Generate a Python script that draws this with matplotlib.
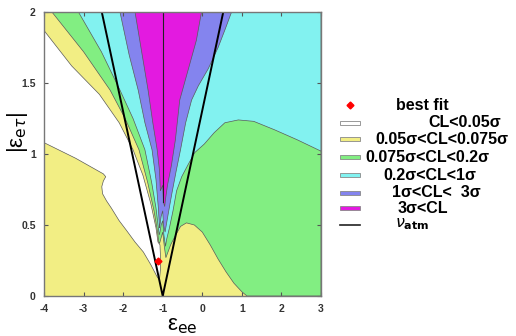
import matplotlib.pyplot as plt
from matplotlib.patches import Rectangle
from matplotlib.lines import Line2D

plt.rcParams['font.family'] = ['Liberation Sans', 'DejaVu Sans']
plt.rcParams['axes.unicode_minus'] = False

# couleurs des niveaux de CL
c_white = '#ffffff'
c_yellow = '#f2ee84'
c_green = '#82ee82'
c_cyan = '#82f2f0'
c_blue = '#8484ee'
c_magenta = '#e31ae0'

# === frontieres (eps_ee, |eps_etau|) ===
# cote gauche, du haut vers le bas
w_x = [-4.0, -3.3, -2.6, -2.1, -1.75, -1.5, -1.3, -1.17, -1.12]          # blanc / jaune
w_y = [1.87, 1.62, 1.42, 1.22, 1.03, 0.85, 0.65, 0.48, 0.38]
yg_x = [-3.80, -3.0, -2.33, -1.95, -1.6, -1.38, -1.22, -1.13, -1.10]      # jaune / vert
yg_y = [2.0, 1.72, 1.45, 1.25, 1.03, 0.80, 0.60, 0.45, 0.38]
gc_x = [-3.13, -2.55, -2.08, -1.75, -1.45, -1.28, -1.17, -1.11, -1.09]    # vert / cyan
gc_y = [2.0, 1.72, 1.45, 1.25, 1.03, 0.80, 0.62, 0.48, 0.43]
cb_x = [-2.08, -1.85, -1.62, -1.45, -1.27, -1.17, -1.11, -1.08]           # cyan / bleu
cb_y = [2.0, 1.70, 1.45, 1.22, 1.03, 0.82, 0.62, 0.48]
bm_x = [-1.70, -1.52, -1.37, -1.25, -1.14, -1.08, -1.06]                  # bleu / magenta
bm_y = [2.0, 1.70, 1.45, 1.22, 1.03, 0.88, 0.74]

# jaune du bas a gauche (de gauche a droite)
low_x = [-4.0, -3.2, -2.50, -2.44, -2.50, -2.54, -2.52, -2.42, -2.30, -2.10, -1.91, -1.70, -1.49, -1.30, -1.15, -1.10]
low_y = [1.08, 0.97, 0.86, 0.84, 0.81, 0.77, 0.72, 0.67, 0.62, 0.53, 0.46, 0.38, 0.31, 0.22, 0.14, 0.12]
# bord droit du blanc
wr_x = [-1.07, -1.06, -1.06, -1.08]
wr_y = [0.36, 0.30, 0.18, 0.12]

# cote droit, du haut vers le bas
mb_x = [-0.02, -0.15, -0.30, -0.45, -0.57, -0.68, -0.78, -0.88, -0.93, -0.95]   # magenta / bleu
mb_y = [2.0, 1.80, 1.65, 1.50, 1.38, 1.10, 0.92, 0.78, 0.68, 0.63]
bc_x = [0.74, 0.58, 0.40, 0.15, -0.10, -0.27, -0.42, -0.55, -0.66, -0.77, -0.86, -0.91, -0.94]  # bleu / cyan
bc_y = [2.0, 1.88, 1.75, 1.60, 1.48, 1.38, 1.22, 1.03, 0.88, 0.72, 0.58, 0.50, 0.45]
cg_x = [3.0, 2.4, 1.83, 1.3, 0.91, 0.57, 0.30, 0.05, -0.19, -0.35, -0.52, -0.65, -0.74, -0.83, -0.90, -0.93]  # cyan / vert
cg_y = [1.02, 1.10, 1.17, 1.23, 1.24, 1.22, 1.15, 1.07, 1.01, 0.93, 0.84, 0.74, 0.60, 0.48, 0.40, 0.35]
# jaune du bas a droite (de la pointe de l'entonnoir vers x=3)
ry_x = [-0.92, -0.88, -0.80, -0.69, -0.55, -0.40, -0.20, 0.0, 0.2, 0.4, 0.6, 0.8, 1.0, 1.13]
ry_y = [0.27, 0.30, 0.36, 0.42, 0.49, 0.515, 0.50, 0.45, 0.36, 0.26, 0.17, 0.09, 0.03, 0.0]

# raccords entre les deux entonnoirs (pointe droite -> pointe gauche)
gap_g_x, gap_g_y = [-0.96, -1.0, -1.04, -1.08], [0.35, 0.45, 0.41, 0.37]
gap_c_x, gap_c_y = [-0.97, -1.0, -1.04, -1.07], [0.43, 0.53, 0.50, 0.45]
gap_b_x, gap_b_y = [-0.98, -1.0, -1.04, -1.07], [0.50, 0.60, 0.56, 0.50]
gap_m_x, gap_m_y = [-0.98, -1.0, -1.03], [0.66, 0.78, 0.76]

# best fit et lignes nu_atm
bf_x, bf_y = [-1.11], [0.25]
atm_x = [-2.54, -1.0, 0.53]
atm_y = [2.0, 0.0, 2.0]

leg_labels = ['best fit', 'CL<0.05σ', '0.05σ<CL<0.075σ', '0.075σ<CL<0.2σ',
              '0.2σ<CL<1σ', '1σ<CL<  3σ', '3σ<CL', r'$\nu_{\mathbf{atm}}$']
leg_colors = [c_white, c_yellow, c_green, c_cyan, c_blue, c_magenta]


def rev(a):
    return list(a)[::-1]


fig = plt.figure(figsize=(5.16, 3.36), dpi=100)
ax = fig.add_axes([44 / 516, 1 - 296 / 336, 277 / 516, 284 / 336])
ax.set_facecolor(c_yellow)
edge = dict(edgecolor='#5a5a5a', linewidth=0.5)

# blanc
px = w_x + wr_x + rev(low_x)
py = w_y + wr_y + rev(low_y)
ax.fill(px, py, facecolor=c_white, **edge)

# >= vert
px = yg_x[:1] + [3, 3] + rev(ry_x) + gap_g_x + rev(yg_x)
py = yg_y[:1] + [2, 0] + rev(ry_y) + gap_g_y + rev(yg_y)
ax.fill(px, py, facecolor=c_green, **edge)

# >= cyan
px = gc_x[:1] + [3] + cg_x + gap_c_x + rev(gc_x)
py = gc_y[:1] + [2] + cg_y + gap_c_y + rev(gc_y)
ax.fill(px, py, facecolor=c_cyan, **edge)

# >= bleu
px = cb_x[:1] + bc_x + gap_b_x + rev(cb_x)
py = cb_y[:1] + bc_y + gap_b_y + rev(cb_y)
ax.fill(px, py, facecolor=c_blue, **edge)

# magenta
px = bm_x[:1] + mb_x + gap_m_x + rev(bm_x)
py = bm_y[:1] + mb_y + gap_m_y + rev(bm_y)
ax.fill(px, py, facecolor=c_magenta, **edge)

ax.plot([-1, -1], [0.66, 2], color='#202020', lw=0.8)
ax.plot(atm_x, atm_y, color='black', lw=1.4)
ax.plot(bf_x, bf_y, 'D', color='red', ms=3.5)

ax.set_xlim(-4, 3)
ax.set_ylim(0, 2)
ax.set_xticks(range(-4, 4))
ax.set_yticks([0, 0.5, 1, 1.5, 2])
ax.set_yticklabels(['0', '0.5', '1', '1.5', '2'])
ax.tick_params(direction='in', length=3, width=0.8, color='#555555', top=True, right=True,
               labelsize=7.5, pad=6, labelcolor='#333333')
for lab in ax.get_xticklabels() + ax.get_yticklabels():
    lab.set_fontweight('bold')
for s in ax.spines.values():
    s.set_color('#777777')
    s.set_linewidth(1)

fig.text(182 / 516, 1 - 326 / 336, r'ε$_{\mathrm{ee}}$', fontsize=16, ha='center', va='center')
fig.text(17 / 516, 1 - 132 / 336, r'|ε$_{\mathrm{e}\tau}$|', fontsize=16, ha='center', va='center',
         rotation=90)

# legende dessinee a la main
txt_x = [396, 428, 375, 365, 383, 392, 398, 395]
row_y = [106, 122.7, 139.3, 157.3, 175, 192.7, 208.3, 224]
for lab, tx, ty in zip(leg_labels, txt_x, row_y):
    fig.text(tx / 516, 1 - ty / 336, lab, fontsize=11.5, fontweight='bold', ha='left', va='center')
fig.add_artist(Line2D([350 / 516], [1 - 105 / 336], marker='D', color='red', ms=3.5,
                      transform=fig.transFigure))
for col, ty in zip(leg_colors, row_y[1:7]):
    fig.add_artist(Rectangle((340 / 516, 1 - (ty + 2) / 336), 20 / 516, 4 / 336, facecolor=col,
                             edgecolor='#888888', lw=0.6, transform=fig.transFigure))
fig.add_artist(Line2D([340 / 516, 360 / 516], [1 - 225 / 336] * 2, color='#222222', lw=1.2,
                      transform=fig.transFigure))

fig.savefig('out.png', dpi=100)
